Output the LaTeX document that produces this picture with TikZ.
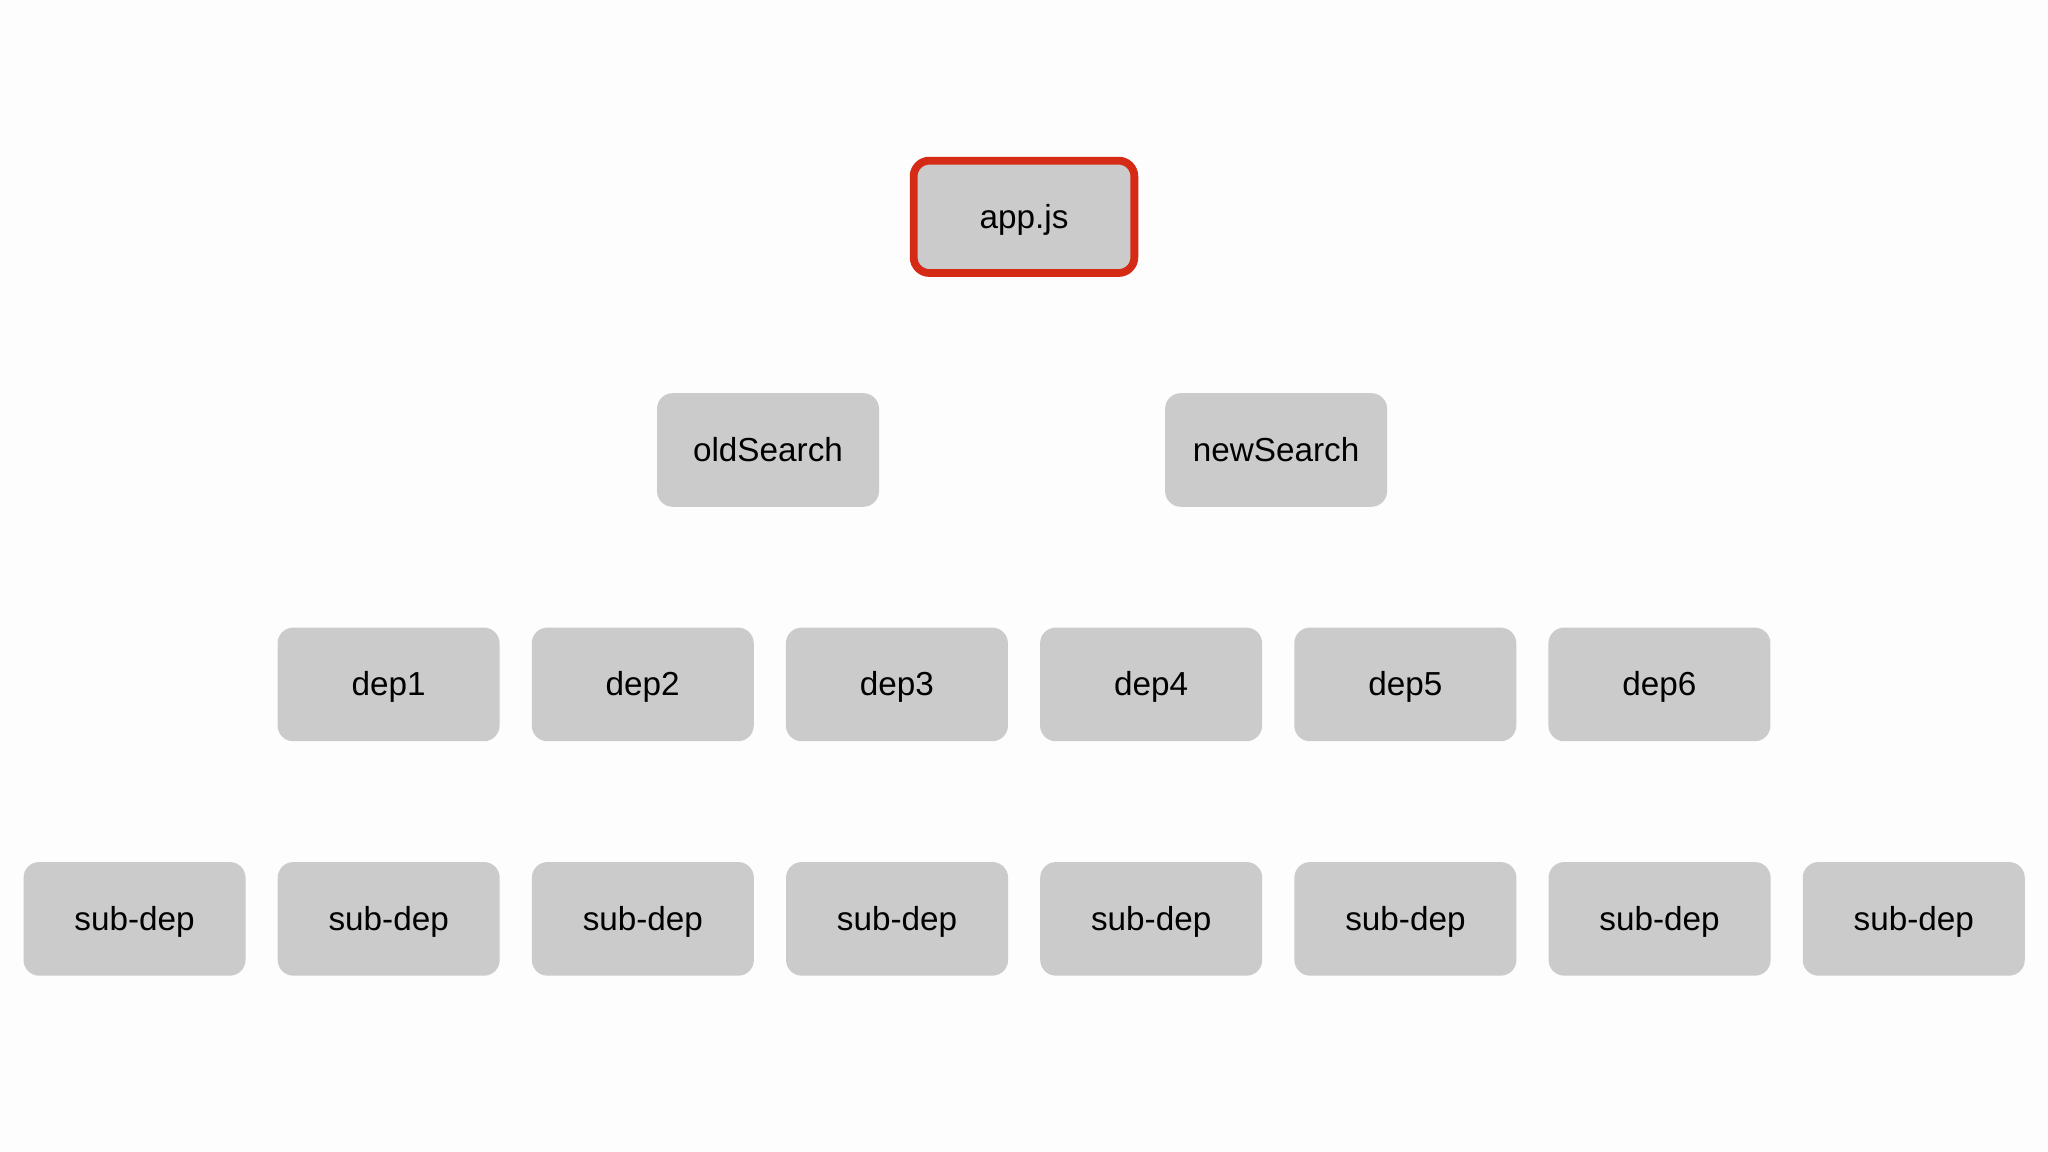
\documentclass[tikz,border=0pt]{standalone}
\usepackage{fontspec}
\setmainfont{Liberation Sans}
\definecolor{boxfill}{HTML}{CBCBCC}
\definecolor{bg}{HTML}{FDFDFD}
\definecolor{redb}{HTML}{D42A16}
\begin{document}
\begin{tikzpicture}[x=0.02cm,y=-0.02cm,
  box/.style={fill=boxfill,draw=none,rounded corners=0.24cm,minimum width=3.4cm,minimum height=1.74cm,font=\fontsize{14.5}{17}\selectfont,inner sep=0pt,text depth=0pt,text height=10pt},
  hilite/.style={box,draw=redb,line width=3.4pt,minimum width=3.38cm,minimum height=1.72cm}]
\fill[bg] (0,0) rectangle (1568,882);
\useasboundingbox (0,0) rectangle (1568,882);
\node[hilite] (app) at (784,166) {app.js};
\node[box] (old) at (588,344.5) {oldSearch};
\node[box] (new) at (977,344.5) {newSearch};
\foreach \i in {1,...,6}{
  \node[box] (dep\i) at ({297.5+194.6*(\i-1)},524) {dep\i};
}
\foreach \i in {1,...,8}{
  \node[box] (sub\i) at ({103+194.6*(\i-1)},703.5) {sub-dep};
}
\end{tikzpicture}
\end{document}
